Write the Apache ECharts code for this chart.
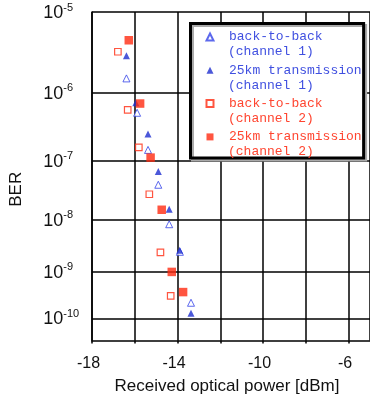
<!DOCTYPE html>
<html>
<head>
<meta charset="utf-8">
<script src="https://cdn.jsdelivr.net/npm/echarts@6/dist/echarts.min.js"></script>
<style>
  html, body { margin: 0; padding: 0; background: #fff; }
  #chart { width: 370px; height: 408px; }
</style>
</head>
<body>
<div id="chart"></div>
<script>
// received optical power [dBm] and -log10(BER) for each curve
const powerB2bCh1 = [-16.39, -15.89, -15.38, -14.90, -14.39, -13.89, -13.37];
const berExpB2bCh1 = [5.81, 6.28, 6.83, 7.39, 8.08, 8.60, 9.65];

const power25kmCh1 = [-16.39, -15.95, -15.38, -14.90, -14.39, -13.90, -13.37];
const berExp25kmCh1 = [5.52, 6.14, 6.59, 7.17, 7.81, 8.57, 9.88];

const powerB2bCh2 = [-16.79, -16.33, -15.81, -15.32, -14.80, -14.32];
const berExpB2bCh2 = [5.47, 6.24, 6.79, 7.55, 8.61, 9.50];

const power25kmCh2 = [-16.28, -15.75, -15.26, -14.74, -14.27, -13.74];
const berExp25kmCh2 = [5.33, 6.15, 6.95, 7.82, 9.00, 9.42];

const seriesNames = [
  'back-to-back (channel 1)',
  '25km transmission (channel 1)',
  'back-to-back (channel 2)',
  '25km transmission (channel 2)'
];

const xLabels = [-18, -14, -10, -6];
const berDecades = [5, 6, 7, 8, 9, 10];   // 10^-5 ... 10^-10
const berExpRange = [5, 10.51];

const blue = '#3444e8';
const blueDark = '#1e2ed0';
const red = '#ff2a10';
const legendColors = ['#4050e0', '#4050e0', '#ff4530', '#ff4530'];

// BER axis: log(-log(BER)) scale
const toY = e => Math.log10(e);
const pts = (xs, es) => xs.map((x, i) => [x, toY(es[i])]);

const chart = echarts.init(document.getElementById('chart'));

const legendText = { fontFamily: 'Liberation Mono', fontSize: 13, lineHeight: 14 };
const legendData = seriesNames.map((n, i) => ({ name: n, textStyle: { color: legendColors[i] } }));

const option = {
  animation: false,
  textStyle: { fontFamily: 'Liberation Sans' },
  grid: { left: 91.7, top: 12, width: 279.3, height: 328.5 },
  legend: [
    {
      orient: 'vertical',
      left: 190.5,
      top: 23.5,
      selectedMode: false,
      itemWidth: 7,
      itemHeight: 7,
      itemGap: 19.3,
      padding: [6.5, 2, 14, 15],
      backgroundColor: '#fff',
      borderColor: '#000',
      borderWidth: 3,
      shadowColor: '#aaa',
      shadowOffsetX: 2,
      shadowOffsetY: 2,
      textStyle: Object.assign({ padding: [0, 0, 0, 10.5] }, legendText),
      data: legendData,
      formatter: n => n.split(' (')[0]
    },
    {
      orient: 'vertical',
      left: 195,
      top: 45,
      z: 6,
      icon: 'none',
      selectedMode: false,
      itemWidth: 28,
      itemHeight: 7,
      itemGap: 19.3,
      padding: 0,
      textStyle: legendText,
      data: legendData,
      formatter: n => '(' + n.split(' (')[1]
    }
  ],
  xAxis: {
    type: 'value',
    min: -18,
    max: -5,
    interval: 2,
    name: 'Received optical power [dBm]',
    nameLocation: 'middle',
    nameGap: 37,
    nameTextStyle: { fontSize: 17, color: '#111', padding: [0, 8, 0, 0] },
    axisLine: { onZero: false, lineStyle: { color: '#000', width: 1.5 } },
    axisTick: { length: 3, lineStyle: { color: '#000', width: 1.5 } },
    axisLabel: {
      margin: 15,
      fontSize: 16,
      color: '#111',
      padding: [0, 7, 0, 0],
      showMaxLabel: false,
      formatter: v => (xLabels.includes(v) ? String(v) : '')
    },
    splitLine: { show: true, lineStyle: { color: '#000', width: 1.5 } }
  },
  yAxis: {
    type: 'value',
    inverse: true,
    min: toY(berExpRange[0]),
    max: toY(berExpRange[1]),
    name: 'BER',
    nameLocation: 'middle',
    nameRotate: 90,
    nameGap: 67,
    nameTextStyle: { fontSize: 17, color: '#111', padding: [0, 26, 0, 0] },
    axisLine: { show: true, onZero: false, lineStyle: { color: '#000', width: 1.5 } },
    axisTick: { show: false, customValues: berDecades.map(toY) },
    axisLabel: {
      customValues: berDecades.map(toY),
      align: 'left',
      margin: 48.7,
      formatter: v => '{b|10}{s|-' + Math.round(Math.pow(10, v)) + '}',
      rich: {
        b: { fontSize: 18, color: '#111', verticalAlign: 'bottom', lineHeight: 20 },
        s: { fontSize: 11, color: '#111', verticalAlign: 'top', lineHeight: 12 }
      }
    },
    splitLine: { show: true, lineStyle: { color: '#000', width: 1.5 } }
  },
  series: [
    {
      name: seriesNames[0],
      type: 'scatter',
      symbol: 'triangle',
      symbolSize: 7,
      data: pts(powerB2bCh1, berExpB2bCh1),
      itemStyle: { color: '#fff', borderColor: blue, borderWidth: 1 }
    },
    {
      name: seriesNames[1],
      type: 'scatter',
      symbol: 'triangle',
      symbolSize: 7,
      data: pts(power25kmCh1, berExp25kmCh1),
      itemStyle: { color: blueDark }
    },
    {
      name: seriesNames[2],
      type: 'scatter',
      symbol: 'rect',
      symbolSize: 6.5,
      data: pts(powerB2bCh2, berExpB2bCh2),
      itemStyle: { color: '#fff', borderColor: red, borderWidth: 1.2 }
    },
    {
      name: seriesNames[3],
      type: 'scatter',
      symbol: 'rect',
      symbolSize: 8.5,
      data: pts(power25kmCh2, berExp25kmCh2),
      itemStyle: { color: red }
    }
  ]
};

chart.setOption(option);
</script>
</body>
</html>
